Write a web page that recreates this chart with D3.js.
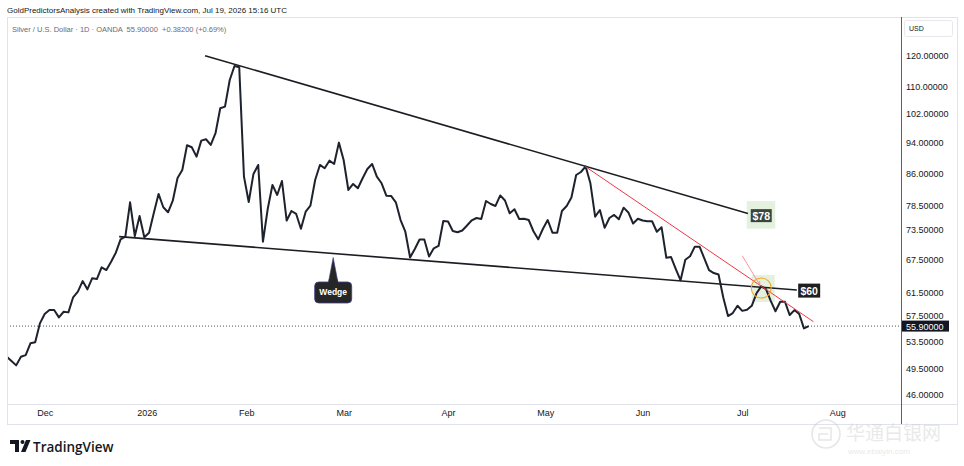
<!DOCTYPE html>
<html>
<head>
<meta charset="utf-8">
<script src="https://cdn.jsdelivr.net/npm/d3@7"></script>
<style>
  body { margin: 0; background: #fff; }
  svg { display: block; font-family: "Liberation Sans", Arial, sans-serif; }
</style>
</head>
<body>
<script>
// Data
// =================================
// daily closes, one per bar (Silver / USD, OANDA, 1D)
var closes = [
  51.25, 50.63, 50.02, 51.25, 51.50, 53.24, 53.39, 56.33, 57.84, 58.49,
  58.49, 57.30, 58.21, 58.11, 60.64, 61.61, 63.49, 62.02, 63.98, 63.85,
  66.01, 65.50, 67.06, 68.80, 71.45, 71.98, 79.34, 72.12, 76.33, 71.86,
  72.80, 76.98, 81.23, 78.23, 77.13, 79.69, 84.99, 86.93, 93.23, 92.70,
  90.27, 94.45, 94.82, 93.31, 96.45, 103.51, 103.98, 112.12, 116.65, 116.22,
  85.30, 79.41, 85.96, 88.18, 70.97, 77.85, 83.33, 81.00, 84.27, 75.35,
  77.41, 76.76, 73.62, 77.26, 78.58, 84.50, 88.18, 87.35, 89.25, 88.42,
  93.92, 89.42, 82.15, 83.56, 82.55, 84.91, 87.18, 88.42, 85.30, 83.72,
  80.84, 80.77, 79.34, 75.46, 73.00, 67.87, 69.52, 71.41, 71.41, 68.06,
  69.66, 70.12, 75.25, 75.14, 73.15, 72.88, 73.25, 74.30, 75.40, 75.89,
  75.68, 79.63, 78.96, 78.52, 80.89, 79.74, 76.91, 77.79, 75.68, 75.74,
  75.46, 73.10, 71.45, 73.62, 75.46, 72.80, 72.80, 77.41, 78.52, 80.43,
  85.71, 86.44, 87.80, 83.72, 76.18, 77.63, 73.81, 75.89, 76.55, 75.63,
  78.14, 77.09, 74.72, 75.74, 75.35, 75.21, 75.19, 73.00, 73.92, 67.81,
  67.96, 65.69, 63.62, 67.44, 68.10, 69.98, 69.98, 67.71, 65.50, 64.95,
  64.68, 60.60, 57.51, 58.00, 59.20, 58.36, 58.54, 59.20, 61.33, 62.55,
  62.08, 60.04, 58.29, 59.88, 59.88, 57.67, 58.49, 57.84, 55.54, 55.90
];
var lastPrice = 55.90;

// axis ticks
var priceTicks = [120, 110, 102, 94, 86, 78.5, 73.5, 67.5, 61.5, 57.5, 53.5, 49.5, 46];
var monthLabels = ["Dec", "2026", "Feb", "Mar", "Apr", "May", "Jun", "Jul", "Aug"];
var monthBars = [8, 29.5, 50.5, 71, 93, 113.5, 134, 155, 175];

// drawings, as [bar, price]
var upperWedge = [[41.8, 120.1], [156.2, 76.87]];
var lowerWedge = [[23.7, 72.0], [166.5, 61.9]];
var redTrend = [[121.9, 87.8], [170.0, 56.6]];
var arrowLine = [[155.0, 68.2], [158.7, 62.8]];
var touchPoint = [159.0, 62.25];
var wedgeTip = [68.8, 67.87];
var tagLabels = ["$78", "$60"];
var tagBars = [159.0, 169.1];
var tagPrices = [76.4, 61.8];

// Step 1: Set up our chart
// =================================
var svgWidth = 964;
var svgHeight = 466;
var pane = { left: 7, right: 957, top: 17, bottom: 424, axisX: 901, axisY: 404 };

var svg = d3.select("body")
  .append("svg")
  .attr("width", svgWidth)
  .attr("height", svgHeight);

svg.append("rect").attr("width", svgWidth).attr("height", svgHeight).attr("fill", "#fff");

// Step 2: Scales
// =================================
var xScale = d3.scaleLinear()
  .domain([0, closes.length - 1])
  .range([6.7, 808.7]);

var yScale = d3.scaleLog()
  .domain([46, 120])
  .range([395, 56]);

// Step 3: Header texts
// =================================
svg.append("text")
  .attr("x", 7).attr("y", 13)
  .attr("font-size", 8).attr("fill", "#131722")
  .text("GoldPredictorsAnalysis created with TradingView.com, Jul 19, 2026 15:16 UTC");

// pane frame
svg.append("rect")
  .attr("x", pane.left + 0.5).attr("y", pane.top + 0.5)
  .attr("width", pane.right - pane.left).attr("height", pane.bottom - pane.top)
  .attr("fill", "none").attr("stroke", "#e0e3eb");

svg.append("line")
  .attr("x1", pane.left).attr("x2", pane.right)
  .attr("y1", pane.axisY + 0.5).attr("y2", pane.axisY + 0.5)
  .attr("stroke", "#e0e3eb");

svg.append("text")
  .attr("x", 12).attr("y", 32)
  .attr("font-size", 7.5).attr("fill", "#6a6d78")
  .attr("xml:space", "preserve")
  .text("Silver / U.S. Dollar · 1D · OANDA  55.90000  +0.38200 (+0.69%)");

// faint watermark (drawn early so the axis stays on top)
var wm = svg.append("g").attr("opacity", 0.45);
wm.append("circle").attr("cx", 826).attr("cy", 434).attr("r", 14)
  .attr("fill", "none").attr("stroke", "#c9c9c9").attr("stroke-width", 1.5);
wm.append("path").attr("d", "M819,428 h12 v12 h-12 v-6 h9")
  .attr("fill", "none").attr("stroke", "#c9c9c9").attr("stroke-width", 1.5);
wm.append("text").attr("x", 846).attr("y", 440)
  .attr("font-size", 19).attr("fill", "#cfcfcf").attr("font-family", "Noto Sans CJK SC")
  .text("华通白银网");
wm.append("text").attr("x", 848).attr("y", 454)
  .attr("font-size", 8).attr("fill", "#cfcfcf")
  .text("www.ebaiyin.com");

// Step 4: Axes
// =================================
var rightAxis = d3.axisRight(yScale)
  .tickValues(priceTicks)
  .tickFormat(d => d.toFixed(5))
  .tickSize(0)
  .tickPadding(5);

var priceAxis = svg.append("g")
  .attr("transform", `translate(${pane.axisX}, 0)`)
  .call(rightAxis);
priceAxis.select(".domain").remove();
priceAxis.selectAll("text")
  .attr("font-size", 9)
  .attr("font-family", "Liberation Sans, Arial, sans-serif")
  .attr("fill", "#131722");

var bottomAxis = d3.axisBottom(xScale)
  .tickValues(monthBars)
  .tickFormat((d, i) => monthLabels[i])
  .tickSize(0)
  .tickPadding(6);

var timeAxis = svg.append("g")
  .attr("transform", `translate(0, ${pane.axisY})`)
  .call(bottomAxis);
timeAxis.select(".domain").remove();
timeAxis.selectAll("text")
  .attr("font-size", 9)
  .attr("font-family", "Liberation Sans, Arial, sans-serif")
  .attr("fill", "#131722");

// USD box
svg.append("rect")
  .attr("x", 904.5).attr("y", 20.5).attr("width", 48).attr("height", 16).attr("rx", 2)
  .attr("fill", "#fff").attr("stroke", "#e6e8ee");
svg.append("text")
  .attr("x", 909).attr("y", 31)
  .attr("font-size", 7).attr("fill", "#131722")
  .text("USD");

// price scale separator
svg.append("line")
  .attr("x1", pane.axisX + 0.5).attr("x2", pane.axisX + 0.5)
  .attr("y1", pane.top).attr("y2", pane.bottom)
  .attr("stroke", "#5d606b");

// Step 5: Plot area
// =================================
svg.append("clipPath").attr("id", "plotClip")
  .append("rect")
  .attr("x", pane.left + 1).attr("y", pane.top + 1)
  .attr("width", pane.axisX - pane.left - 1).attr("height", pane.axisY - pane.top - 1);

var plotGroup = svg.append("g").attr("clip-path", "url(#plotClip)");

// last price dotted line
plotGroup.append("line")
  .attr("x1", pane.left).attr("x2", pane.axisX)
  .attr("y1", yScale(lastPrice)).attr("y2", yScale(lastPrice))
  .attr("stroke", "#50535e").attr("stroke-width", 1)
  .attr("stroke-dasharray", "1,2");

var drawLine = d3.line()
  .x(d => xScale(d[0]))
  .y(d => yScale(d[1]));

// touch highlight behind the price
var tx = xScale(touchPoint[0]);
var ty = yScale(touchPoint[1]);
plotGroup.append("rect")
  .attr("x", tx - 9.5).attr("y", ty - 13).attr("width", 23).attr("height", 27)
  .attr("fill", "#e4f1df");

// $78 green box background
plotGroup.append("rect")
  .attr("x", xScale(tagBars[0]) - 14.5).attr("y", yScale(tagPrices[0]) - 14.5)
  .attr("width", 28.5).attr("height", 27.5)
  .attr("fill", "#e4f1df");

// wedge lines
plotGroup.append("path")
  .attr("d", drawLine(upperWedge))
  .attr("fill", "none").attr("stroke", "#1b1d22").attr("stroke-width", 1.6);

plotGroup.append("path")
  .attr("d", drawLine(lowerWedge))
  .attr("fill", "none").attr("stroke", "#1b1d22").attr("stroke-width", 1.6);

// price line
var priceLine = d3.line()
  .x((d, i) => xScale(i))
  .y(d => yScale(d));

plotGroup.append("path")
  .datum(closes)
  .attr("d", priceLine)
  .attr("fill", "none")
  .attr("stroke", "#1e222d")
  .attr("stroke-width", 2)
  .attr("stroke-linejoin", "round");

// red trend line
plotGroup.append("path")
  .attr("d", drawLine(redTrend))
  .attr("fill", "none").attr("stroke", "#f23645").attr("stroke-width", 1);

// thin arrow to the touch
var a0 = [xScale(arrowLine[0][0]), yScale(arrowLine[0][1])];
var a1 = [xScale(arrowLine[1][0]), yScale(arrowLine[1][1])];
var ang = Math.atan2(a1[1] - a0[1], a1[0] - a0[0]);
plotGroup.append("line")
  .attr("x1", a0[0]).attr("y1", a0[1]).attr("x2", a1[0]).attr("y2", a1[1])
  .attr("stroke", "#f77a84").attr("stroke-width", 0.8);
plotGroup.append("path")
  .attr("d", `M${a1[0] - 4 * Math.cos(ang - 0.5)},${a1[1] - 4 * Math.sin(ang - 0.5)} L${a1[0]},${a1[1]} L${a1[0] - 4 * Math.cos(ang + 0.5)},${a1[1] - 4 * Math.sin(ang + 0.5)}`)
  .attr("fill", "none").attr("stroke", "#f77a84").attr("stroke-width", 0.8);

// orange circle
plotGroup.append("circle")
  .attr("cx", tx).attr("cy", ty).attr("r", 10)
  .attr("fill", "none").attr("stroke", "#f5a623").attr("stroke-width", 1.1);

// Step 6: Labels
// =================================
// $78 tag
var t78x = xScale(tagBars[0]);
var t78y = yScale(tagPrices[0]);
svg.append("rect")
  .attr("x", t78x - 10.5).attr("y", t78y - 6.5).attr("width", 21).attr("height", 13)
  .attr("fill", "#3a463a");
svg.append("text")
  .attr("x", t78x).attr("y", t78y + 4)
  .attr("text-anchor", "middle").attr("font-size", 10.5).attr("font-weight", "bold")
  .attr("fill", "#fff")
  .text(tagLabels[0]);

// $60 tag
var t60x = xScale(tagBars[1]);
var t60y = yScale(tagPrices[1]);
svg.append("rect")
  .attr("x", t60x - 11).attr("y", t60y - 7).attr("width", 22).attr("height", 14)
  .attr("fill", "#1f1f1f");
svg.append("text")
  .attr("x", t60x).attr("y", t60y + 4)
  .attr("text-anchor", "middle").attr("font-size", 10.5).attr("font-weight", "bold")
  .attr("fill", "#fff")
  .text(tagLabels[1]);

// Wedge callout
var wx = xScale(wedgeTip[0]);
var wy = yScale(wedgeTip[1]);
svg.append("path")
  .attr("d", `M${wx},${wy} L${wx + 5},${wy + 26} L${wx - 5},${wy + 26} Z`)
  .attr("fill", "#262626").attr("stroke", "#3b3f8c").attr("stroke-width", 0.6);
svg.append("rect")
  .attr("x", wx - 18.5).attr("y", wy + 24.5).attr("width", 37).attr("height", 21).attr("rx", 4)
  .attr("fill", "#262626").attr("stroke", "#3b3f8c").attr("stroke-width", 0.8);
svg.append("rect")
  .attr("x", wx - 4.4).attr("y", wy + 22).attr("width", 8.8).attr("height", 4)
  .attr("fill", "#262626");
svg.append("text")
  .attr("x", wx).attr("y", wy + 38)
  .attr("text-anchor", "middle").attr("font-size", 8.5).attr("font-weight", "bold")
  .attr("fill", "#fff")
  .text("Wedge");

// last price tag on the scale
var lpY = yScale(lastPrice);
svg.append("rect")
  .attr("x", pane.axisX + 1).attr("y", lpY - 5.5).attr("width", 47).attr("height", 11)
  .attr("fill", "#131722");
svg.append("text")
  .attr("x", pane.axisX + 5).attr("y", lpY + 3.5)
  .attr("font-size", 9).attr("fill", "#fff")
  .text(lastPrice.toFixed(5));

// Step 7: Footer
// =================================
var logo = svg.append("g").attr("fill", "#131722");
logo.append("path").attr("d", "M10,440 h9 v12 h-4 v-8 h-5 z");
logo.append("circle").attr("cx", 22.5).attr("cy", 442).attr("r", 2);
logo.append("path").attr("d", "M21,452 l5,-12 h4.5 l-5,12 z");
svg.append("text")
  .attr("x", 33).attr("y", 451.5)
  .attr("font-size", 13.5).attr("font-weight", 600)
  .attr("font-family", "Open Sans, Liberation Sans, sans-serif")
  .attr("fill", "#131722")
  .text("TradingView");
</script>
</body>
</html>
